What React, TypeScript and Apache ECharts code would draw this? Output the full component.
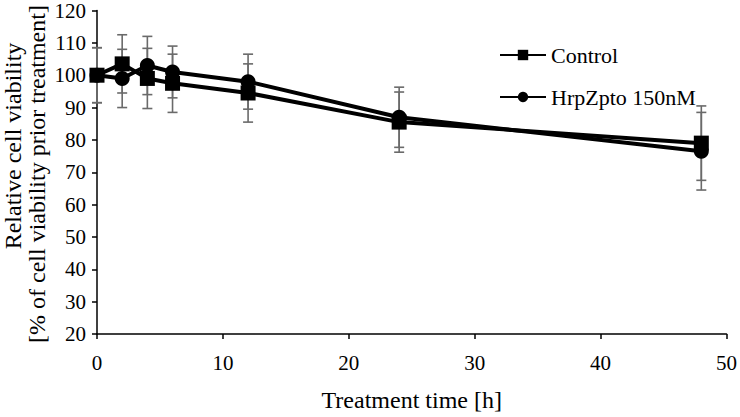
import React, { useEffect, useRef } from "react";
import * as echarts from "echarts";

const timePoints = [0, 2, 4, 6, 12, 24, 48];
const controlValues = [100, 103.5, 99, 97.5, 94.5, 85.5, 79];
const controlErrors = [8.5, 9, 9.3, 9, 9, 9.3, 11.5];
const hrpValues = [100, 99, 103, 101, 98, 87, 76.5];
const hrpErrors = [8.5, 9, 9, 8, 8.5, 9.3, 12];

const FONT = "Liberation Serif";

function errorSeries(name: string, values: number[], errors: number[]) {
  return {
    type: "custom",
    name,
    z: 1,
    silent: true,
    data: timePoints.map((t, i) => [t, values[i], errors[i]]),
    renderItem: (params: any, api: any) => {
      const x = api.value(0);
      const y = api.value(1);
      const e = api.value(2);
      const top = api.coord([x, y + e]);
      const bot = api.coord([x, y - e]);
      const hw = 5;
      const style = { stroke: "#6a6a6a", lineWidth: 1.6 };
      return {
        type: "group",
        children: [
          { type: "line", shape: { x1: top[0], y1: top[1], x2: bot[0], y2: bot[1] }, style },
          { type: "line", shape: { x1: top[0] - hw, y1: top[1], x2: top[0] + hw, y2: top[1] }, style },
          { type: "line", shape: { x1: bot[0] - hw, y1: bot[1], x2: bot[0] + hw, y2: bot[1] }, style },
        ],
      };
    },
  };
}

export default function App() {
  const ref = useRef<HTMLDivElement>(null);
  useEffect(() => {
    if (!ref.current) return;
    const chart = echarts.init(ref.current, null, { renderer: "svg" });
    chart.setOption({
      animation: false,
      backgroundColor: "#ffffff",
      textStyle: { fontFamily: FONT },
      grid: { left: 97, right: 10, top: 8.5, bottom: 74, containLabel: false },
      legend: {
        data: ["Control", "HrpZpto 150nM"],
        orient: "vertical",
        left: 499,
        top: 44,
        padding: 0,
        itemWidth: 46,
        itemHeight: 13,
        itemGap: 20,
        textStyle: { fontFamily: FONT, fontSize: 22, color: "#000" },
      },
      xAxis: {
        type: "value",
        min: 0,
        max: 50,
        interval: 10,
        name: "Treatment time [h]",
        nameLocation: "middle",
        nameGap: 54,
        nameTextStyle: { fontFamily: FONT, fontSize: 24, color: "#000" },
        axisLine: { lineStyle: { color: "#000", width: 1.5 } },
        axisTick: { show: true, inside: false, length: 5, lineStyle: { color: "#000", width: 1.5 } },
        axisLabel: { fontFamily: FONT, fontSize: 21, color: "#000", margin: 18 },
        splitLine: { show: false },
      },
      yAxis: {
        type: "value",
        min: 20,
        max: 120,
        interval: 10,
        axisLine: { show: true, lineStyle: { color: "#000", width: 1.5 } },
        axisTick: { show: true, inside: false, length: 5, lineStyle: { color: "#000", width: 1.5 } },
        axisLabel: { fontFamily: FONT, fontSize: 21, color: "#000", margin: 11 },
        splitLine: { show: false },
      },
      graphic: [
        {
          type: "text",
          x: 13,
          y: 146,
          rotation: Math.PI / 2,
          style: {
            text: "Relative cell viability",
            font: `24px "${FONT}"`,
            fill: "#000",
            align: "center",
            verticalAlign: "middle",
          },
        },
        {
          type: "text",
          x: 37,
          y: 174,
          rotation: Math.PI / 2,
          style: {
            text: "[% of cell viability prior treatment]",
            font: `24px "${FONT}"`,
            fill: "#000",
            align: "center",
            verticalAlign: "middle",
          },
        },
      ],
      series: [
        errorSeries("Control err", controlValues, controlErrors),
        errorSeries("Hrp err", hrpValues, hrpErrors),
        {
          type: "line",
          name: "Control",
          z: 3,
          data: timePoints.map((t, i) => [t, controlValues[i]]),
          symbol: "rect",
          symbolSize: 15,
          lineStyle: { color: "#000", width: 4 },
          itemStyle: { color: "#000" },
        },
        {
          type: "line",
          name: "HrpZpto 150nM",
          z: 3,
          data: timePoints.map((t, i) => [t, hrpValues[i]]),
          symbol: "circle",
          symbolSize: 15,
          lineStyle: { color: "#000", width: 4 },
          itemStyle: { color: "#000" },
        },
      ],
    });
    return () => chart.dispose();
  }, []);
  return <div ref={ref} style={{ width: 740, height: 417, position: "absolute", left: 0, top: 0 }} />;
}
